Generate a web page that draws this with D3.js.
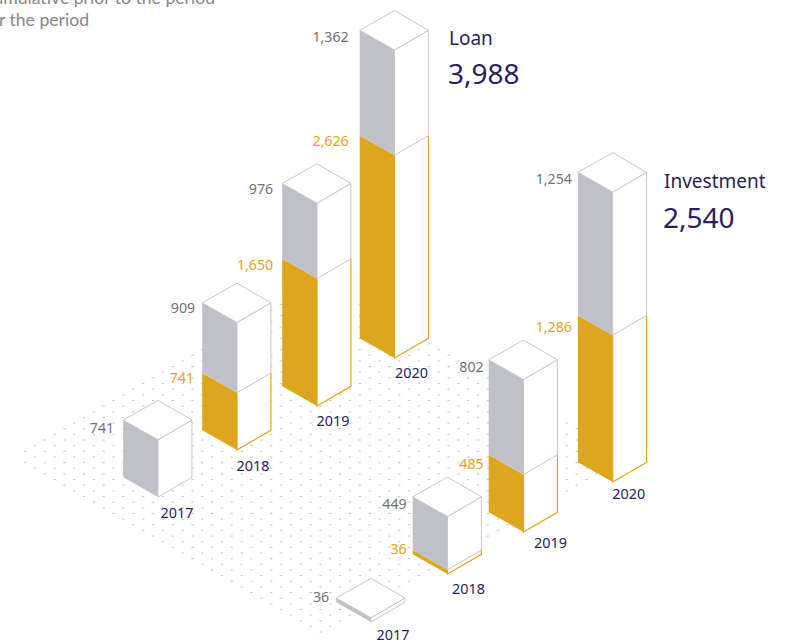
<!DOCTYPE html>
<html>
<head>
<meta charset="utf-8">
<script src="https://cdn.jsdelivr.net/npm/d3@7"></script>
<style>
html,body{margin:0;padding:0;background:#fff;overflow:hidden}
svg{display:block}
text{font-family:"Noto Sans",sans-serif}
</style>
</head>
<body>
<svg id="chart" width="794" height="642"></svg>
<script>
const years = [2017, 2018, 2019, 2020];
const loanPrior = [0, 741, 1650, 2626];
const loanPeriod = [741, 909, 976, 1362];
const investPrior = [0, 36, 485, 1286];
const investPeriod = [36, 449, 802, 1254];
const legendLabels = ["Cumulative prior to the period", "For the period"];
const panelTitles = ["Loan", "Investment"];
const panelTotals = ["3,988", "2,540"];

const GOLD = "#dea51f", GREY = "#bfc0c8", EDGE = "#c6c6cd", INK = "#2b2160", MUTED = "#737377";
const HALF_L = 34.8, HALF_R = 33.9, HALF_H = 19.7;

const fmt = d3.format(",");
const svg = d3.select("#chart");

// Isometric floor positions of each bar's front corner
const loanX = d3.scaleOrdinal().domain(years).range([158, 237, 317, 394.5]);
const loanY = d3.scaleOrdinal().domain(years).range([497, 450, 406, 358]);
const investX = d3.scaleOrdinal().domain(years).range([371, 447.5, 523.5, 612.7]);
const investY = d3.scaleOrdinal().domain(years).range([622, 574, 532, 482]);

// Vertical scales, in pixels of extrusion
const loanH = d3.scaleLinear().domain([0, 3988]).range([0, 308]);
const investH = d3.scaleLinear().domain([0, 1287]).range([0, 152.5]);
const invest2020H = d3.scaleLinear().domain([0, 2540]).range([0, 290]);

// Hand placement of labels around the bars: [dx, dy] per year
const loanYearNudge = [[1, 0], [-2, 0], [-2, -1], [-1, -1]];
const investYearNudge = [[4, -3], [3, -1], [9, -5], [-2, -4]];
const investValueNudge = [[3, -8], [4, 0], [5, 0], [4, 0]];
const investPriorNudge = [[0, 0], [4, -8], [5, 2], [4, 5]];
const loanValueNudge = [[1, 1], [3, -2], [1, -1], [-1, 0]];
const loanPriorNudge = [[0, 0], [2, -2], [1, -1], [-1, -1]];

// Floor lattice of faint dashes, a diamond lying on the ground plane
const stepX = 9.85, stepY = 5.65, floorLeft = 25, floorMid = 457, halfCols = 30;
const lattice = [];
d3.range(0, 2 * halfCols + 1).forEach(k => {
  const span = k <= halfCols ? k + 1 : 2 * halfCols + 1 - k;
  d3.range(0, span + 1).forEach(j => {
    lattice.push([floorLeft + k * stepX, floorMid + (2 * j - span) * stepY]);
  });
});
svg.append("g").attr("fill", "#cacace").selectAll("rect")
  .data(lattice)
  .join("rect")
  .attr("x", d => d[0] - 1.2).attr("y", d => d[1] - 0.6)
  .attr("width", 2.4).attr("height", 1.1);

const poly = pts => pts.map(p => p.join(",")).join(" ");

function drawBar(g, x, y, hPrior, hTotal) {
  const l = x - HALF_L, r = x + HALF_R;
  const yJ = y - hPrior, yT = y - hTotal;
  if (hPrior > 0) {
    g.append("polygon").attr("fill", GOLD)
      .attr("points", poly([[l, y - HALF_H], [x, y], [x, yJ], [l, yJ - HALF_H]]));
    g.append("polygon").attr("fill", "#fff")
      .attr("points", poly([[x, y], [r, y - HALF_H], [r, yJ - HALF_H], [x, yJ]]));
    g.append("polyline").attr("fill", "none").attr("stroke", GOLD).attr("stroke-width", 1.2)
      .attr("points", poly([[x, yJ], [x, y], [r, y - HALF_H], [r, yJ - HALF_H]]));
  }
  g.append("polygon").attr("fill", GREY)
    .attr("points", poly([[l, yJ - HALF_H], [x, yJ], [x, yT], [l, yT - HALF_H]]));
  g.append("polygon").attr("fill", "#fff").attr("stroke", EDGE).attr("stroke-width", 1)
    .attr("points", poly([[x, yJ], [r, yJ - HALF_H], [r, yT - HALF_H], [x, yT]]));
  g.append("polygon").attr("fill", "#fff").attr("stroke", EDGE).attr("stroke-width", 1)
    .attr("points", poly([[l, yT - HALF_H], [x, yT], [r, yT - HALF_H], [x, yT - 2 * HALF_H]]));
}

function valueLabel(x, y, text, color) {
  svg.append("text").attr("x", x).attr("y", y).attr("text-anchor", "end")
    .attr("font-size", 14.2).attr("fill", color).text(text);
}

function drawPanel(xs, ys, hs, prior, period, yearNudge, valueNudge, priorNudge) {
  years.forEach((yr, i) => {
    const x = xs(yr), y = ys(yr), h = hs(yr);
    const hP = h(prior[i]), hT = h(prior[i] + period[i]);
    drawBar(svg.append("g"), x, y, hP, hT);
    const lx = x - HALF_L - 10;
    valueLabel(lx + valueNudge[i][0], y - hT - HALF_H + 12 + valueNudge[i][1], fmt(period[i]), MUTED);
    if (prior[i] > 0) valueLabel(lx + priorNudge[i][0], y - hP - HALF_H + 12 + priorNudge[i][1], fmt(prior[i]), GOLD);
    svg.append("text").attr("x", x + 18 + yearNudge[i][0]).attr("y", y + 20.5 + yearNudge[i][1]).attr("text-anchor", "middle")
      .attr("font-size", 14.4).attr("fill", INK).text(yr);
  });
}

drawPanel(loanX, loanY, () => loanH, loanPrior, loanPeriod, loanYearNudge, loanValueNudge, loanPriorNudge);
drawPanel(investX, investY, yr => yr === 2020 ? invest2020H : investH, investPrior, investPeriod, investYearNudge, investValueNudge, investPriorNudge);

// Panel headings
panelTitles.forEach((t, i) => {
  const x = i ? 664 : 449;
  svg.append("text").attr("x", x).attr("y", i ? 188 : 45).attr("font-size", 19).attr("fill", INK).text(t);
  svg.append("text").attr("x", x - 1).attr("y", i ? 228 : 84).attr("font-size", 28).attr("fill", INK).text(panelTotals[i]);
});

// Legend, running off the top-left edge
svg.append("g").selectAll("text")
  .data(legendLabels).join("text")
  .style("font-family", "Lato")
  .attr("x", (d, i) => i ? 89 : 215).attr("y", (d, i) => i ? 26 : 4).attr("text-anchor", "end")
  .attr("font-size", 17.6).attr("fill", "#86868a").text(d => d);
</script>
</body>
</html>
